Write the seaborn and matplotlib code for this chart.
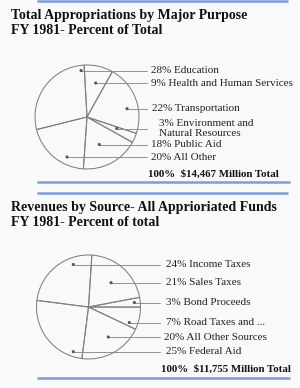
import matplotlib
matplotlib.use("Agg")
import matplotlib.pyplot as plt
import seaborn as sns
import pandas as pd

# ---- data ----
approp_labels = ["Education", "Health and Human Services", "Transportation",
                 "Environment and\nNatural Resources", "Public Aid", "All Other"]
approp_pct = [28, 9, 22, 3, 18, 20]
approp_total = "$14,467"

revenue_labels = ["Income Taxes", "Sales Taxes", "Bond Proceeds",
                  "Road Taxes and ...", "All Other Sources", "Federal Aid"]
revenue_pct = [24, 21, 3, 7, 20, 25]
revenue_total = "$11,755"

titles = ["Total Appropriations by Major Purpose\nFY 1981- Percent of Total",
          "Revenues by Source- All Apprioriated Funds\nFY 1981- Percent of total"]

# ---- layout (pixel coordinates, y from top) ----
H = 388
def Y(p):
    return H - p

sns.set_theme(style="white")
plt.rcParams["font.family"] = ["Liberation Serif", "DejaVu Serif"]

BG = "#f7f9fa"
BLUE = "#7b9be2"
EDGE = "#808080"
LEAD = "#8a8a8a"

fig = plt.figure(figsize=(3.0, 3.88), dpi=100, facecolor=BG)
ax = fig.add_axes([0, 0, 1, 1])
ax.set_facecolor(BG)

panels = [
    dict(pct=approp_pct, labels=approp_labels, total=approp_total, title=titles[0],
         center=(87, 117), r=52, start=194,
         dots_x=[81, 95.7, 127, 116.7, 99.3, 67],
         dots_y=[70.5, 83, 108.7, 128.5, 144.5, 157],
         line_end=147, text_x=[151, 151, 152, 159, 151, 151],
         title_y=23, total_xy=(148, 174)),
    dict(pct=revenue_pct, labels=revenue_labels, total=revenue_total, title=titles[1],
         center=(88.5, 307), r=52, start=172.7,
         dots_x=[73.3, 111, 134.3, 129.3, 108.3, 73.3],
         dots_y=[264.5, 282.7, 302.5, 322.5, 337, 351.7],
         line_end=160, text_x=[165.5, 165.5, 166.5, 165.5, 164.3, 165.5],
         title_y=215, total_xy=(161, 369.5)),
]

for p in panels:
    cx, cy = p["center"]
    ax.pie(p["pct"], center=(cx, Y(cy)), radius=p["r"], startangle=p["start"],
           counterclock=False,
           wedgeprops=dict(facecolor="none", edgecolor=EDGE, linewidth=0.75))
    # leader lines
    for dx, dy in zip(p["dots_x"], p["dots_y"]):
        ax.plot([dx, p["line_end"]], [Y(dy), Y(dy)], color=LEAD, lw=0.65, zorder=3)
    df = pd.DataFrame({"x": p["dots_x"], "y": [Y(v) for v in p["dots_y"]]})
    sns.scatterplot(data=df, x="x", y="y", ax=ax, color="#555555", s=5,
                    edgecolor="none", zorder=4, legend=False)
    for tx, dy, pc, lab in zip(p["text_x"], p["dots_y"], p["pct"], p["labels"]):
        ax.text(tx, Y(dy), f"{pc}% {lab}", ha="left", va="center",
                fontsize=8, color="#222222", linespacing=1.15)
    ax.text(p["total_xy"][0], Y(p["total_xy"][1]), f"100%  {p['total']} Million Total",
            ha="left", va="center", fontsize=7.8, fontweight="bold", color="#111111")
    ax.text(11, Y(p["title_y"]), p["title"], ha="left", va="center",
            fontsize=10, fontweight="bold", color="#111111", linespacing=1.1)

# decorative blue rules
for y0, x0, x1 in [(0.8, 37, 288), (182, 37, 290), (193, 37, 288), (378.3, 37, 290)]:
    ax.plot([x0, x1], [Y(y0), Y(y0)], color=BLUE, lw=1.8, solid_capstyle="butt")

ax.set_xlim(0, 300)
ax.set_ylim(0, H)
ax.set_aspect("equal")
ax.axis("off")

fig.savefig("out.png", dpi=100, facecolor=BG)
